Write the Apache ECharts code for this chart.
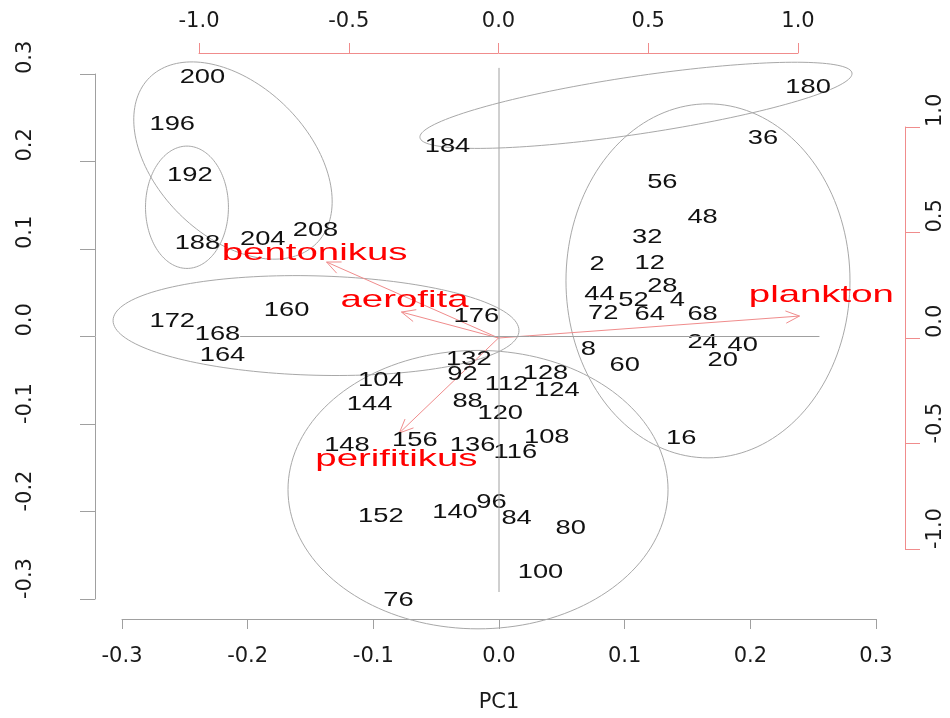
<!DOCTYPE html>
<html>
<head>
<meta charset="utf-8">
<script src="https://cdn.jsdelivr.net/npm/echarts/dist/echarts.min.js"></script>
<style>html,body{margin:0;padding:0;background:#fff}#c{width:950px;height:718px}</style>
</head>
<body>
<div id="c"></div>
<script>
// ---- sample scores (PC1, PC2) ----
const sampleIds = ['200','196','192','188','204','208','172','168','164','160','176','184','180','36','56','48','32','2','12','28','44','52','4','72','64','68','8','60','24','40','20','16','132','92','112','128','124','104','144','88','120','108','148','156','136','116','96','140','84','80','152','100','76'];
const pc1 = [-0.236,-0.260,-0.246,-0.240,-0.188,-0.146,-0.260,-0.224,-0.220,-0.169,-0.018,-0.041,0.246,0.210,0.130,0.162,0.118,0.078,0.120,0.130,0.080,0.107,0.142,0.083,0.120,0.162,0.071,0.100,0.162,0.194,0.178,0.145,-0.024,-0.029,0.006,0.037,0.046,-0.094,-0.103,-0.025,0.001,0.038,-0.121,-0.067,-0.021,0.013,-0.006,-0.035,0.014,0.057,-0.094,0.033,-0.080];
const pc2 = [0.296,0.243,0.184,0.107,0.111,0.122,0.017,0.003,-0.021,0.030,0.023,0.217,0.285,0.227,0.176,0.136,0.113,0.083,0.084,0.058,0.048,0.041,0.041,0.027,0.025,0.025,-0.015,-0.033,-0.006,-0.010,-0.027,-0.116,-0.026,-0.043,-0.055,-0.042,-0.061,-0.050,-0.077,-0.074,-0.088,-0.115,-0.124,-0.119,-0.124,-0.132,-0.189,-0.201,-0.208,-0.219,-0.205,-0.269,-0.301];

// ---- variable loadings (secondary axes) ----
const varNames = ['bentonikus','aerofita','perifitikus','plankton'];
const varTipX = [-0.574,-0.324,-0.331,1.005];
const varTipY = [0.360,0.123,-0.450,0.104];
const varLabelX = [-0.614,-0.314,-0.341,1.078];
const varLabelY = [0.403,0.180,-0.573,0.204];

// ---- group ellipses: centre and two semi-axis vectors (PC units) ----
const ellCx = [-0.2117,-0.2483,-0.1456,0.1090,0.1663,-0.0167];
const ellCy = [0.2011,0.1477,0.0125,0.2642,0.0636,-0.1750];
const ellUx = [0.0664,0.0330,0.1615,0.1719,0.1130,0.1512];
const ellUy = [-0.0948,0,-0.0057,0.0369,0,0];
const ellVx = [-0.0427,0,0,0.0034,0,0];
const ellVy = [-0.0610,0.0699,0.0568,-0.0326,0.2023,0.1591];

// ---- reference lines through origin ----
const hLineX = [-0.206,0.255];
const vLineY = [-0.292,0.307];

// ---- tick labels ----
const pcTicks = [-0.3,-0.2,-0.1,0.0,0.1,0.2,0.3];
const pcTickLabels = ['-0.3','-0.2','-0.1','0.0','0.1','0.2','0.3'];
const ldTicks = [-1.0,-0.5,0.0,0.5,1.0];
const ldTickLabels = ['-1.0','-0.5','0.0','0.5','1.0'];

function fmt(ticks, labels){
  return function(v){
    for (let i=0;i<ticks.length;i++){ if (Math.abs(ticks[i]-v)<1e-9) return labels[i]; }
    return '';
  };
}

const gray = '#a0a0a0';
const pink = '#f08c8c';
const axFont = 'DejaVu Sans';

const chart = echarts.init(document.getElementById('c'));
const option = {
  animation:false,
  backgroundColor:'#ffffff',
  grid:[
    {left:122,right:74,top:74,bottom:116},
    {left:199,right:152,top:127,bottom:169}
  ],
  xAxis:[
    {gridIndex:0,type:'value',min:-0.3,max:0.3,interval:0.1,position:'bottom',offset:20,
     axisLine:{show:true,onZero:false,lineStyle:{color:gray,width:1}},
     axisTick:{show:true,length:10,lineStyle:{color:gray}},
     axisLabel:{formatter:fmt(pcTicks,pcTickLabels),color:'#1a1a1a',fontSize:21,fontFamily:axFont,margin:27},
     splitLine:{show:false},
     name:'PC1',nameLocation:'middle',nameGap:73,
     nameTextStyle:{color:'#1a1a1a',fontSize:21,fontFamily:axFont}},
    {gridIndex:1,type:'value',min:-1,max:1,interval:0.5,position:'top',offset:74,
     axisLine:{show:true,onZero:false,lineStyle:{color:pink,width:1}},
     axisTick:{show:true,length:10,lineStyle:{color:pink}},
     axisLabel:{formatter:fmt(ldTicks,ldTickLabels),color:'#1a1a1a',fontSize:21,fontFamily:axFont,margin:21},
     splitLine:{show:false}}
  ],
  yAxis:[
    {gridIndex:0,type:'value',min:-0.3,max:0.3,interval:0.1,position:'left',offset:27,
     axisLine:{show:true,onZero:false,lineStyle:{color:gray,width:1}},
     axisTick:{show:true,length:15,lineStyle:{color:gray}},
     axisLabel:{formatter:fmt(pcTicks,pcTickLabels),color:'#1a1a1a',fontSize:21,fontFamily:axFont,margin:59,rotate:90,align:'left'},
     splitLine:{show:false}},
    {gridIndex:1,type:'value',min:-1,max:1,interval:0.5,position:'right',offset:107,
     axisLine:{show:true,onZero:false,lineStyle:{color:pink,width:1}},
     axisTick:{show:true,length:15,lineStyle:{color:pink}},
     axisLabel:{formatter:fmt(ldTicks,ldTickLabels),color:'#1a1a1a',fontSize:21,fontFamily:axFont,margin:20,rotate:90,align:'left'},
     splitLine:{show:false}}
  ],
  series:[
    {type:'line',xAxisIndex:0,yAxisIndex:0,data:[[hLineX[0],0],[hLineX[1],0]],showSymbol:false,symbol:'none',clip:false,silent:true,
     lineStyle:{color:gray,width:1}},
    {type:'line',xAxisIndex:0,yAxisIndex:0,data:[[0,vLineY[0]],[0,vLineY[1]]],showSymbol:false,symbol:'none',clip:false,silent:true,
     lineStyle:{color:gray,width:1}},
    {type:'custom',xAxisIndex:0,yAxisIndex:0,silent:true,clip:false,
     data: ellCx.map((c,i)=>[c,ellCy[i],ellUx[i],ellUy[i],ellVx[i],ellVy[i]]),
     encode:{x:0,y:1},
     renderItem:function(params,api){
       const cx=api.value(0),cy=api.value(1),ux=api.value(2),uy=api.value(3),vx=api.value(4),vy=api.value(5);
       const pts=[];
       for(let k=0;k<=160;k++){
         const t=k/160*Math.PI*2;
         pts.push(api.coord([cx+ux*Math.cos(t)+vx*Math.sin(t), cy+uy*Math.cos(t)+vy*Math.sin(t)]));
       }
       return {type:'polyline',shape:{points:pts},style:{fill:null,stroke:'#a8a8a8',lineWidth:1}};
     }},
    {type:'custom',xAxisIndex:1,yAxisIndex:1,silent:true,clip:false,
     data: varTipX.map((x,i)=>[x,varTipY[i]]),
     encode:{x:0,y:1},
     renderItem:function(params,api){
       const o=api.coord([0,0]);
       const p=api.coord([api.value(0),api.value(1)]);
       const ang=Math.atan2(p[1]-o[1],p[0]-o[0]);
       const L=15, w=0.42;
       const a1=[p[0]-L*Math.cos(ang-w),p[1]-L*Math.sin(ang-w)];
       const a2=[p[0]-L*Math.cos(ang+w),p[1]-L*Math.sin(ang+w)];
       return {type:'group',children:[
         {type:'line',shape:{x1:o[0],y1:o[1],x2:p[0],y2:p[1]},style:{stroke:pink,lineWidth:1}},
         {type:'polyline',shape:{points:[a1,p,a2]},style:{fill:null,stroke:pink,lineWidth:1}}
       ]};
     }},
    {type:'custom',xAxisIndex:0,yAxisIndex:0,silent:true,clip:false,
     data: pc1.map((x,i)=>[x,pc2[i]]),
     encode:{x:0,y:1},
     renderItem:function(params,api){
       const p=api.coord([api.value(0),api.value(1)]);
       return {type:'text',x:p[0],y:p[1],scaleX:1.3,
         style:{text:sampleIds[params.dataIndex],fill:'#111111',
           font:'21px "Liberation Sans", Arial, sans-serif',align:'center',verticalAlign:'middle'}};
     }},
    {type:'custom',xAxisIndex:1,yAxisIndex:1,silent:true,clip:false,
     data: varLabelX.map((x,i)=>[x,varLabelY[i]]),
     encode:{x:0,y:1},
     renderItem:function(params,api){
       const p=api.coord([api.value(0),api.value(1)]);
       return {type:'text',x:p[0],y:p[1],scaleX:1.6,
         style:{text:varNames[params.dataIndex],fill:'#ff0000',
           font:'24px "Liberation Sans", Arial, sans-serif',align:'center',verticalAlign:'middle'}};
     }}
  ]
};
chart.setOption(option);
</script>
</body>
</html>
